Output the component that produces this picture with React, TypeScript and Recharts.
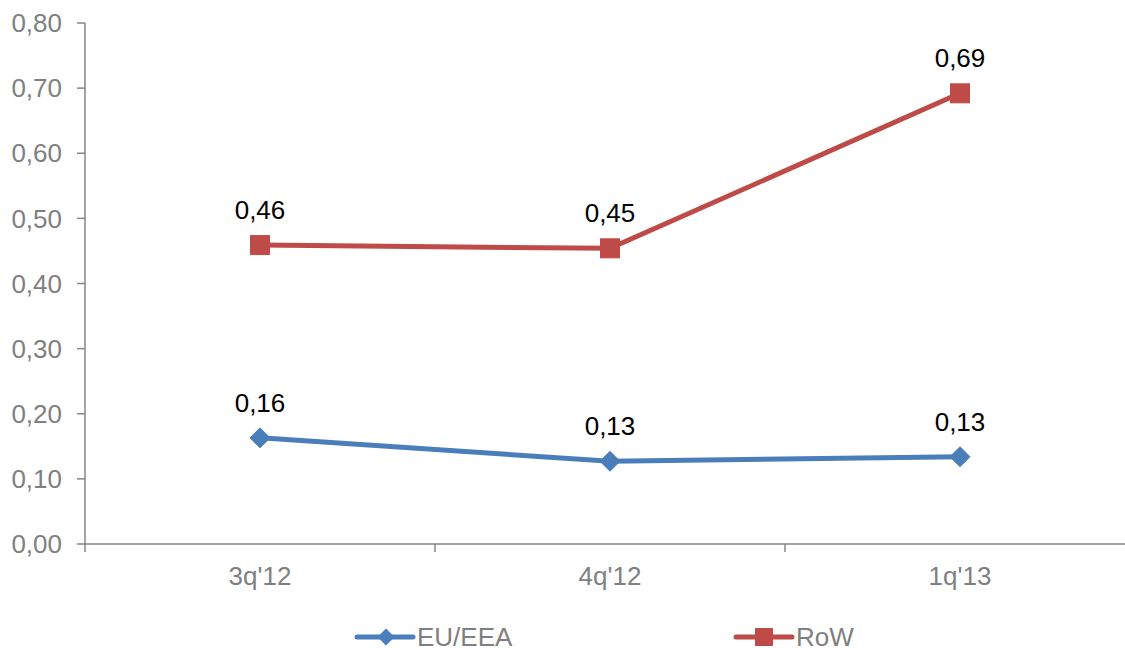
import React from 'react';
import { LineChart, Line, XAxis, YAxis, LabelList } from 'recharts';

const categories = ["3q'12", "4q'12", "1q'13"];
const euValues = [0.163, 0.127, 0.134];
const rowValues = [0.459, 0.454, 0.692];
const yTicks = [0, 0.1, 0.2, 0.3, 0.4, 0.5, 0.6, 0.7, 0.8];
const seriesNames = ['EU/EEA', 'RoW'];

const BLUE = '#4A7EBB';
const RED = '#BE4B48';
const GREY_TEXT = '#7F7F7F';
const AXIS = '#868686';
const FONT = '"Liberation Sans", Arial, sans-serif';

const data = categories.map((c, i) => ({ x: i + 0.5, cat: c, eu: euValues[i], row: rowValues[i] }));
const fmt = (v: number) => v.toFixed(2).replace('.', ',');

const XTick = (props: any) => {
  const { x, y, payload } = props;
  const v = payload.value as number;
  if (Number.isInteger(v)) {
    return <line x1={x} x2={x} y1={y} y2={y + 8} stroke={AXIS} strokeWidth={1.5} />;
  }
  const idx = Math.floor(v);
  return (
    <text x={x} y={y + 41} textAnchor="middle" fill={GREY_TEXT} fontSize={26} fontFamily={FONT}>
      {categories[idx]}
    </text>
  );
};

const Diamond = (props: any) => {
  const { cx, cy, index } = props;
  if (cx == null || cy == null) return <g key={`d${index}`} />;
  const r = 10;
  return (
    <path key={`d${index}`} d={`M${cx},${cy - r}L${cx + r},${cy}L${cx},${cy + r}L${cx - r},${cy}Z`} fill={BLUE} stroke={BLUE} strokeWidth={1} />
  );
};

const Square = (props: any) => {
  const { cx, cy, index } = props;
  if (cx == null || cy == null) return <g key={`s${index}`} />;
  const r = 9.5;
  return <rect key={`s${index}`} x={cx - r} y={cy - r} width={2 * r} height={2 * r} fill={RED} stroke={RED} strokeWidth={1} />;
};

const DataLabel = (props: any) => {
  const { x, y, value } = props;
  return (
    <text x={x} y={y - 26} textAnchor="middle" fill="#000" fontSize={26} fontFamily={FONT}>
      {fmt(value)}
    </text>
  );
};

export default function App() {
  return (
    <div style={{ position: 'fixed', left: 0, top: 0, width: 1125, height: 648, overflow: 'hidden', background: '#fff' }}>
      <LineChart width={1150} height={648} data={data} margin={{ top: 23, right: 15, left: 0, bottom: 0 }}>
        <XAxis
          dataKey="x"
          type="number"
          domain={[0, 3]}
          ticks={[0, 0.5, 1, 1.5, 2, 2.5, 3]}
          interval={0}
          height={104}
          tickSize={0}
          tickMargin={0}
          tickLine={false}
          axisLine={{ stroke: AXIS, strokeWidth: 1.5 }}
          tick={<XTick />}
        />
        <YAxis
          domain={[0, 0.8]}
          ticks={yTicks}
          interval={0}
          width={85}
          tickSize={8}
          tickMargin={15}
          tickFormatter={fmt}
          axisLine={{ stroke: AXIS, strokeWidth: 1.5 }}
          tickLine={{ stroke: AXIS, strokeWidth: 1.5 }}
          tick={{ fill: GREY_TEXT, fontSize: 26, fontFamily: FONT }}
        />
        <Line dataKey="eu" name={seriesNames[0]} stroke={BLUE} strokeWidth={5} dot={Diamond} isAnimationActive={false}>
          <LabelList dataKey="eu" content={DataLabel} />
        </Line>
        <Line dataKey="row" name={seriesNames[1]} stroke={RED} strokeWidth={5} dot={Square} isAnimationActive={false}>
          <LabelList dataKey="row" content={DataLabel} />
        </Line>
      </LineChart>
      <svg width={1125} height={648} style={{ position: 'absolute', left: 0, top: 0, pointerEvents: 'none' }}>
        <line x1={357} x2={413} y1={637} y2={637} stroke={BLUE} strokeWidth={5} strokeLinecap="round" />
        <path d="M386,628.5L394.5,637L386,645.5L377.5,637Z" fill={BLUE} />
        <text x={417} y={646} fill={GREY_TEXT} fontSize={26} fontFamily={FONT}>{seriesNames[0]}</text>
        <line x1={736} x2={792} y1={637} y2={637} stroke={RED} strokeWidth={5} strokeLinecap="round" />
        <rect x={755} y={628} width={18} height={18} fill={RED} />
        <text x={796} y={646} fill={GREY_TEXT} fontSize={26} fontFamily={FONT}>{seriesNames[1]}</text>
      </svg>
    </div>
  );
}
